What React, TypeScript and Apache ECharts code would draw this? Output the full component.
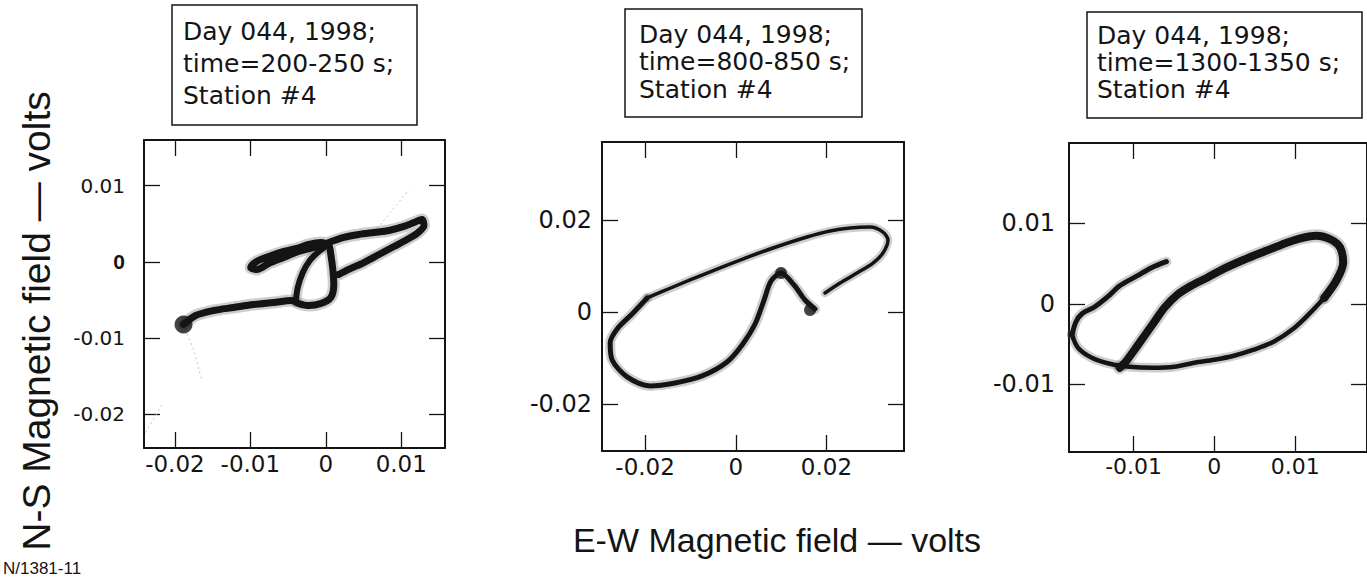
import React, { useEffect, useRef } from "react";
import * as echarts from "echarts";

// ---------- Panel texts ----------
const boxLines1 = ["Day 044, 1998;", "time=200-250 s;", "Station #4"];
const boxLines2 = ["Day 044, 1998;", "time=800-850 s;", "Station #4"];
const boxLines3 = ["Day 044, 1998;", "time=1300-1350 s;", "Station #4"];
const xTitle = "E-W Magnetic field \u2014 volts";
const yTitle = "N-S Magnetic field \u2014 volts";
const footer = "N/1381-11";

// ---------- Tick values ----------
const p1XTicks = [-0.02, -0.01, 0, 0.01];
const p1YTicks = [-0.02, -0.01, 0, 0.01];
const p2XTicks = [-0.02, 0, 0.02];
const p2YTicks = [-0.02, 0, 0.02];
const p3XTicks = [-0.01, 0, 0.01];
const p3YTicks = [-0.01, 0, 0.01];

// ---------- Axis ranges ----------
const p1XRange = [-0.0241, 0.0158];
const p1YRange = [-0.0244, 0.016];
const p2XRange = [-0.0295, 0.0371];
const p2YRange = [-0.0301, 0.0369];
const p3XRange = [-0.018, 0.0189];
const p3YRange = [-0.0184, 0.02];

// ---------- Panel 1 (200-250 s) ----------
const p1Main = [
  [-0.01886, -0.0082], [-0.01726, -0.00702], [-0.01487, -0.00636], [-0.01222, -0.00597],
  [-0.00956, -0.00558], [-0.00691, -0.00531], [-0.00452, -0.00505], [-0.00359, -0.00545],
  [-0.00226, -0.00571], [-0.00066, -0.00545], [0.00066, -0.00466], [0.00106, -0.00295],
  [0.00093, -0.00098], [0.00066, 0.00098], [0.0004, 0.00217], [-0.00066, 0.00256],
  [-0.00226, 0.0023], [-0.00385, 0.00177], [-0.00558, 0.00138], [-0.00757, 0.00072],
  [-0.00916, 0.00007], [-0.00996, -0.00072], [-0.00916, -0.00098], [-0.00757, -0.0002],
  [-0.00558, 0.00059], [-0.00359, 0.00138], [-0.00159, 0.0019], [0.0004, 0.00256],
  [0.00239, 0.00322], [0.00438, 0.00361], [0.00637, 0.00387], [0.00837, 0.00413],
  [0.01036, 0.00466], [0.01169, 0.00518], [0.01275, 0.00558], [0.01301, 0.00479],
  [0.01208, 0.00374], [0.01076, 0.00295], [0.00903, 0.00203], [0.00704, 0.00098],
  [0.00505, -0.00007], [0.00305, -0.00098], [0.00173, -0.00164],
];
const p1LoopLeft = [
  [-0.00398, -0.00518], [-0.00372, -0.00335], [-0.00305, -0.00138], [-0.00212, 0.0002],
  [-0.00093, 0.00138], [0.00013, 0.00217],
];
const p1Faint = [
  [-0.01886, -0.0082], [-0.01753, -0.01148], [-0.01647, -0.01542], "-",
  [-0.0239, -0.02237], [-0.02151, -0.01843], "-",
  [0.00637, 0.00387], [0.00943, 0.00754], [0.01102, 0.00951],
];
const p1Blob = [[-0.01886, -0.0082]];

// ---------- Panel 2 (800-850 s) ----------
const p2Thick = [
  [0.01748, 0.00069], [0.01527, 0.00264], [0.01285, 0.00589], [0.00998, 0.00849],
  [0.00778, 0.00676], [0.00624, 0.00264], [0.00425, -0.00256], [0.00139, -0.0071],
  [-0.00192, -0.01079], [-0.00743, -0.01382], [-0.01338, -0.01534], [-0.01889, -0.01598],
  [-0.02396, -0.01404], [-0.02726, -0.01035], [-0.0277, -0.00667], [-0.02616, -0.00364],
  [-0.02286, -0.00039], [-0.01955, 0.00308],
];
const p2Upper = [
  [-0.01955, 0.00308], [-0.01382, 0.00546], [-0.00633, 0.00849], [0.00095, 0.01131],
  [0.00822, 0.01391], [0.01572, 0.01629], [0.02078, 0.01759], [0.02519, 0.01824],
  [0.0296, 0.01845], [0.03246, 0.01737], [0.03357, 0.01564], [0.03246, 0.01282],
  [0.03026, 0.01066], [0.02673, 0.00849], [0.02299, 0.00632], [0.01968, 0.00416],
];
const p2Blobs = [[0.01638, 0.00048], [0.00998, 0.00849]];

// ---------- Panel 3 (1300-1350 s) ----------
const p3UpperLeft = [
  [-0.01763, -0.00383], [-0.01713, -0.00221], [-0.0164, -0.00122], [-0.0148, -0.00035],
  [-0.0132, 0.0009], [-0.01172, 0.00226], [-0.00951, 0.00351], [-0.00779, 0.0045],
  [-0.00594, 0.00525],
];
const p3Lower = [
  [-0.01763, -0.00383], [-0.01689, -0.00544], [-0.01517, -0.00669], [-0.01295, -0.00743],
  [-0.01049, -0.00781], [-0.00766, -0.00793], [-0.00496, -0.00781], [-0.0025, -0.00731],
  [-0.00004, -0.00694], [0.00242, -0.00644], [0.00488, -0.00569], [0.00734, -0.0047],
  [0.00993, -0.00296], [0.01189, -0.00109], [0.01362, 0.00077],
];
const p3Diagonal = [
  [0.01362, 0.00077], [0.01509, 0.00288], [0.01595, 0.00512], [0.01558, 0.00699],
  [0.01448, 0.00798], [0.01263, 0.00848], [0.01042, 0.0081], [0.00833, 0.00736],
  [0.00611, 0.00649], [0.00365, 0.00549], [0.00119, 0.00438], [-0.0009, 0.00326],
  [-0.00287, 0.00226], [-0.00459, 0.00114], [-0.00619, -0.00047], [-0.00742, -0.00221],
  [-0.00865, -0.00395], [-0.00988, -0.00569], [-0.01098, -0.00718], [-0.01172, -0.00793],
];

const INK = "#141414";
const LABEL_FONT = "DejaVu Sans";
const TITLE_FONT = "Liberation Sans";

const fmt = (v: number) => (Math.abs(v) < 1e-9 ? "0" : v.toFixed(2));

function makeAxes(
  gi: number,
  xr: number[],
  yr: number[],
  xt: number[],
  yt: number[],
  o: { xFs: number; yFs: number; xMargin: number; yMargin: number; boldZero?: boolean }
) {
  const line = { show: true, onZero: false, lineStyle: { color: INK, width: 2 } };
  const tick = (vals: number[]) => ({
    show: true,
    inside: true,
    length: 16,
    customValues: vals,
    lineStyle: { color: INK, width: 1.3 },
  });
  const common = { type: "value", gridIndex: gi, splitLine: { show: false } };
  const xAxes = [
    {
      ...common,
      position: "bottom",
      min: xr[0],
      max: xr[1],
      axisLine: line,
      axisTick: tick(xt),
      axisLabel: {
        customValues: xt,
        fontSize: o.xFs,
        fontFamily: LABEL_FONT,
        color: INK,
        margin: o.xMargin,
        formatter: (v: number) => fmt(v),
      },
    },
    {
      ...common,
      position: "top",
      min: xr[0],
      max: xr[1],
      axisLine: line,
      axisTick: tick(xt),
      axisLabel: { show: false },
    },
  ];
  const yAxes = [
    {
      ...common,
      position: "left",
      min: yr[0],
      max: yr[1],
      axisLine: line,
      axisTick: tick(yt),
      axisLabel: {
        customValues: yt,
        fontSize: o.yFs,
        fontFamily: LABEL_FONT,
        color: INK,
        margin: o.yMargin,
        formatter: (v: number) => (o.boldZero && Math.abs(v) < 1e-9 ? "{b|0}" : fmt(v)),
        rich: { b: { fontWeight: "bold", fontFamily: TITLE_FONT, fontSize: 21, color: INK } },
      },
    },
    {
      ...common,
      position: "right",
      min: yr[0],
      max: yr[1],
      axisLine: line,
      axisTick: tick(yt),
      axisLabel: { show: false },
    },
  ];
  return { xAxes, yAxes };
}

function band(gi: number, data: any[], width: number, halo = true) {
  const out: any[] = [];
  if (halo) {
    out.push({
      type: "line",
      xAxisIndex: gi * 2,
      yAxisIndex: gi * 2,
      data,
      symbol: "none",
      smooth: 0.3,
      silent: true,
      lineStyle: { color: "#3a3a3a", width: width + 5, opacity: 0.25, cap: "round", join: "round" },
      z: 2,
    });
  }
  out.push({
    type: "line",
    xAxisIndex: gi * 2,
    yAxisIndex: gi * 2,
    data,
    symbol: "none",
    smooth: 0.3,
    silent: true,
    lineStyle: { color: INK, width, cap: "round", join: "round" },
    z: 3,
  });
  return out;
}

function faint(gi: number, data: any[]) {
  return {
    type: "line",
    xAxisIndex: gi * 2,
    yAxisIndex: gi * 2,
    data,
    symbol: "none",
    silent: true,
    connectNulls: false,
    lineStyle: { color: "#bdbdbd", width: 0.9, type: [2, 3] },
    z: 1,
  };
}

function blob(gi: number, data: any[], size: number) {
  return {
    type: "scatter",
    xAxisIndex: gi * 2,
    yAxisIndex: gi * 2,
    data,
    symbolSize: size,
    silent: true,
    itemStyle: { color: INK },
    z: 4,
  };
}

function textBox(x: number, y: number, w: number, h: number, lines: string[], tx: number, ty: number, lh: number, fs: number) {
  return {
    type: "group",
    children: [
      { type: "rect", shape: { x, y, width: w, height: h }, style: { fill: "#fff", stroke: INK, lineWidth: 1.5 } },
      ...lines.map((t, i) => ({
        type: "text",
        x: tx,
        y: ty + i * lh,
        style: { text: t, fontSize: fs, fontFamily: LABEL_FONT, fill: INK, verticalAlign: "middle" },
      })),
    ],
  };
}

export default function App() {
  const ref = useRef<HTMLDivElement>(null);
  useEffect(() => {
    if (!ref.current) return;
    const chart = echarts.init(ref.current, null, { renderer: "svg" });
    const a1 = makeAxes(0, p1XRange, p1YRange, p1XTicks, p1YTicks, { xFs: 23, yFs: 20, xMargin: 4, yMargin: 19, boldZero: true });
    const a2 = makeAxes(1, p2XRange, p2YRange, p2XTicks, p2YTicks, { xFs: 23, yFs: 24, xMargin: 4, yMargin: 10 });
    const a3 = makeAxes(2, p3XRange, p3YRange, p3XTicks, p3YTicks, { xFs: 22, yFs: 24, xMargin: 3, yMargin: 14 });

    const option: any = {
      animation: false,
      backgroundColor: "#ffffff",
      grid: [
        { left: 144, top: 140, width: 301, height: 308 },
        { left: 602, top: 142, width: 302, height: 309 },
        { left: 1069, top: 143, width: 300, height: 309 },
      ],
      xAxis: [...a1.xAxes, ...a2.xAxes, ...a3.xAxes],
      yAxis: [...a1.yAxes, ...a2.yAxes, ...a3.yAxes],
      series: [
        faint(0, p1Faint),
        ...band(0, p1Main, 7),
        ...band(0, p1LoopLeft, 6),
        blob(0, p1Blob, 18),
        ...band(1, p2Thick, 5),
        ...band(1, p2Upper, 3.5),
        blob(1, p2Blobs, 12),
        ...band(2, p3UpperLeft, 5),
        ...band(2, p3Lower, 4.5),
        ...band(2, p3Diagonal, 8),
      ],
      graphic: [
        textBox(172, 5, 245, 120, boxLines1, 183, 31, 32, 25),
        textBox(625, 9, 237, 108, boxLines2, 639, 34, 27.5, 25),
        textBox(1087, 12, 275, 106, boxLines3, 1097, 35, 27, 25),
        {
          type: "text",
          x: 777,
          y: 540,
          style: { text: xTitle, fontSize: 34, fontFamily: TITLE_FONT, fill: INK, align: "center", verticalAlign: "middle" },
        },
        {
          type: "text",
          x: 36,
          y: 321,
          rotation: Math.PI / 2,
          style: { text: yTitle, fontSize: 39, fontFamily: TITLE_FONT, fill: INK, align: "center", verticalAlign: "middle" },
        },
        {
          type: "text",
          x: 3,
          y: 568,
          style: { text: footer, fontSize: 17, fontFamily: TITLE_FONT, fill: INK, align: "left", verticalAlign: "middle" },
        },
      ],
    };
    chart.setOption(option);
    return () => chart.dispose();
  }, []);
  return (
    <div
      ref={ref}
      style={{ position: "absolute", left: 0, top: 0, width: 1367, height: 583, background: "#fff" }}
    />
  );
}
